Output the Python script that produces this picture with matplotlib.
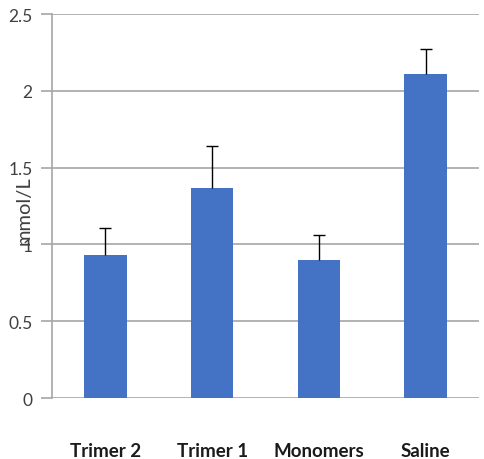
import matplotlib
matplotlib.use("Agg")
import matplotlib.pyplot as plt
import numpy as np

# values
groups = ["Trimer 2", "Trimer 1", "Monomers", "Saline"]
means = [0.93, 1.37, 0.90, 2.11]
errors = [0.18, 0.27, 0.16, 0.16]
y_ticks = [0, 0.5, 1, 1.5, 2, 2.5]
y_tick_labels = ["0", "0.5", "1", "1.5", "2", "2.5"]

plt.rcParams["font.family"] = ["Lato", "DejaVu Sans"]

fig = plt.figure(figsize=(4.85, 4.6), dpi=100)
ax = fig.add_axes([0.107, 0.1326, 0.881, 0.8344])

x = np.arange(len(groups))
ax.bar(x, means, width=0.4, color="#4472C4", zorder=3)
eb = ax.errorbar(
    x,
    means,
    yerr=[np.zeros(len(errors)), errors],
    fmt="none",
    ecolor="black",
    elinewidth=1,
    capsize=4,
    capthick=1,
    zorder=4,
)
# only the upper cap is shown
eb[1][0].set_visible(False)

ax.set_xlim(-0.5, 3.5)
ax.set_ylim(0, 2.5)
ax.set_yticks(y_ticks)
ax.set_yticklabels(y_tick_labels, fontsize=12.5, color="#404040")
ax.set_xticks(x)
ax.set_xticklabels(groups, fontsize=13.5, fontweight="bold", color="#1a1a1a")
ax.tick_params(axis="x", length=0, pad=32)
ax.tick_params(axis="y", length=8, color="#a6a6a6", width=1.2, pad=6)

ax.yaxis.grid(True, color="#a6a6a6", linewidth=1.2, zorder=0)
for side in ["top", "right", "bottom"]:
    ax.spines[side].set_visible(False)
ax.spines["left"].set_color("#a6a6a6")
ax.spines["left"].set_linewidth(1.2)

# the label sits over the tick labels, as in the source
ax.set_ylabel("mmol/L", fontsize=14.5, color="#404040")
ax.yaxis.set_label_coords(-0.045, 0.49)

fig.savefig("out.png", dpi=100)
